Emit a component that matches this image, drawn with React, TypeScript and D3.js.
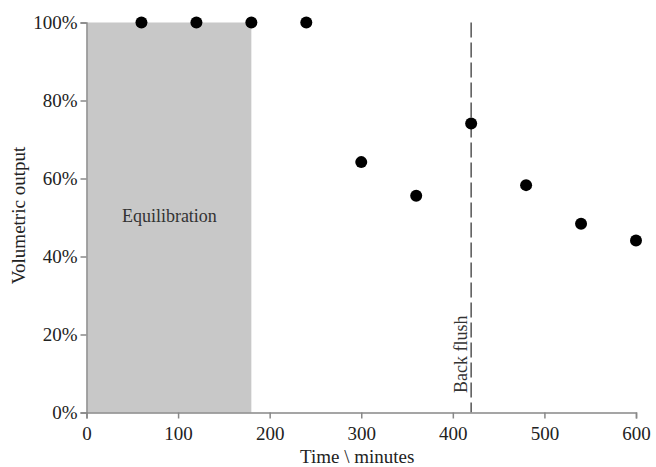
import { useEffect, useRef } from 'react';
import * as d3 from 'd3';

// measured points: time (min) vs volumetric output (%)
const times = [60, 120, 180, 240, 300, 360, 420, 480, 540, 600];
const outputs = [100, 100, 100, 100, 64.2, 55.6, 74.1, 58.3, 48.4, 44.1];

const xTicks = [0, 100, 200, 300, 400, 500, 600];
const yTicks = [0, 20, 40, 60, 80, 100];

const equilibration = [0, 180];
const equilibrationLabel = 'Equilibration';
const backFlushTime = 420;
const backFlushLabel = 'Back flush';

function App() {
  const svgRef = useRef<SVGSVGElement>(null);

  useEffect(() => {
    const width = 656;
    const height = 467;
    const margin = { top: 22.5, right: 20, bottom: 54.5, left: 86.5 };
    const innerW = width - margin.left - margin.right;
    const innerH = height - margin.top - margin.bottom;
    const font = '"Liberation Serif", "Times New Roman", serif';

    d3.select(svgRef.current).selectAll('*').remove();

    const svg = d3.select(svgRef.current)
      .attr('width', width)
      .attr('height', height)
      .style('display', 'block')
      .append('g')
      .attr('transform', `translate(${margin.left},${margin.top})`);

    const x = d3.scaleLinear().domain([0, 600]).range([0, innerW]);
    const y = d3.scaleLinear().domain([0, 100]).range([innerH, 0]);

    // Equilibration shaded band
    svg.append('rect')
      .attr('x', x(equilibration[0]) + 1)
      .attr('y', y(100))
      .attr('width', x(equilibration[1]) - x(equilibration[0]) - 1)
      .attr('height', y(0) - y(100))
      .attr('fill', '#c8c8c8');

    svg.append('text')
      .attr('x', x(90.5))
      .attr('y', y(48.8))
      .attr('text-anchor', 'middle')
      .attr('fill', '#333')
      .style('font-family', font)
      .style('font-size', '18px')
      .text(equilibrationLabel);

    // Back flush dashed marker
    svg.append('line')
      .attr('x1', x(backFlushTime))
      .attr('x2', x(backFlushTime))
      .attr('y1', y(100))
      .attr('y2', y(0))
      .attr('stroke', '#555')
      .attr('stroke-width', 1.5)
      .attr('stroke-dasharray', '15,5');

    svg.append('text')
      .attr('transform', `translate(${x(backFlushTime) - 4},${y(5)}) rotate(-90)`)
      .attr('fill', '#333')
      .style('font-family', font)
      .style('font-size', '18px')
      .text(backFlushLabel);

    // X axis
    const xAxis = svg.append('g')
      .attr('transform', `translate(0,${innerH})`)
      .call(d3.axisBottom(x).tickValues(xTicks).tickSize(6).tickPadding(8));
    xAxis.select('.domain').attr('stroke', '#888').attr('stroke-width', 1.5);
    xAxis.selectAll('line').attr('stroke', '#888').attr('stroke-width', 1.5);
    xAxis.selectAll('text')
      .attr('fill', '#222')
      .style('font-family', font)
      .style('font-size', '19px');

    // Y axis
    const yAxis = svg.append('g')
      .call(d3.axisLeft(y).tickValues(yTicks).tickSize(6).tickPadding(3)
        .tickFormat(d => `${d}%`));
    yAxis.select('.domain').attr('stroke', '#888').attr('stroke-width', 1.5);
    yAxis.selectAll('line').attr('stroke', '#888').attr('stroke-width', 1.5);
    yAxis.selectAll('text')
      .attr('fill', '#222')
      .style('font-family', font)
      .style('font-size', '19px');

    // Points
    svg.selectAll('circle')
      .data(times.map((t, i) => ({ t, v: outputs[i] })))
      .join('circle')
      .attr('cx', d => x(d.t))
      .attr('cy', d => y(d.v))
      .attr('r', 6)
      .attr('fill', '#000');

    // Axis titles
    svg.append('text')
      .attr('x', innerW / 2 - 4)
      .attr('y', innerH + 50)
      .attr('text-anchor', 'middle')
      .attr('fill', '#222')
      .style('font-family', font)
      .style('font-size', '19px')
      .text('Time \\ minutes');

    svg.append('text')
      .attr('transform', `translate(${-62},${innerH / 2 - 2}) rotate(-90)`)
      .attr('text-anchor', 'middle')
      .attr('fill', '#222')
      .style('font-family', font)
      .style('font-size', '19px')
      .text('Volumetric output');
  }, []);

  return (
    <div style={{ position: 'absolute', left: 0, top: 0 }}>
      <svg ref={svgRef}></svg>
    </div>
  );
}

export default App;
